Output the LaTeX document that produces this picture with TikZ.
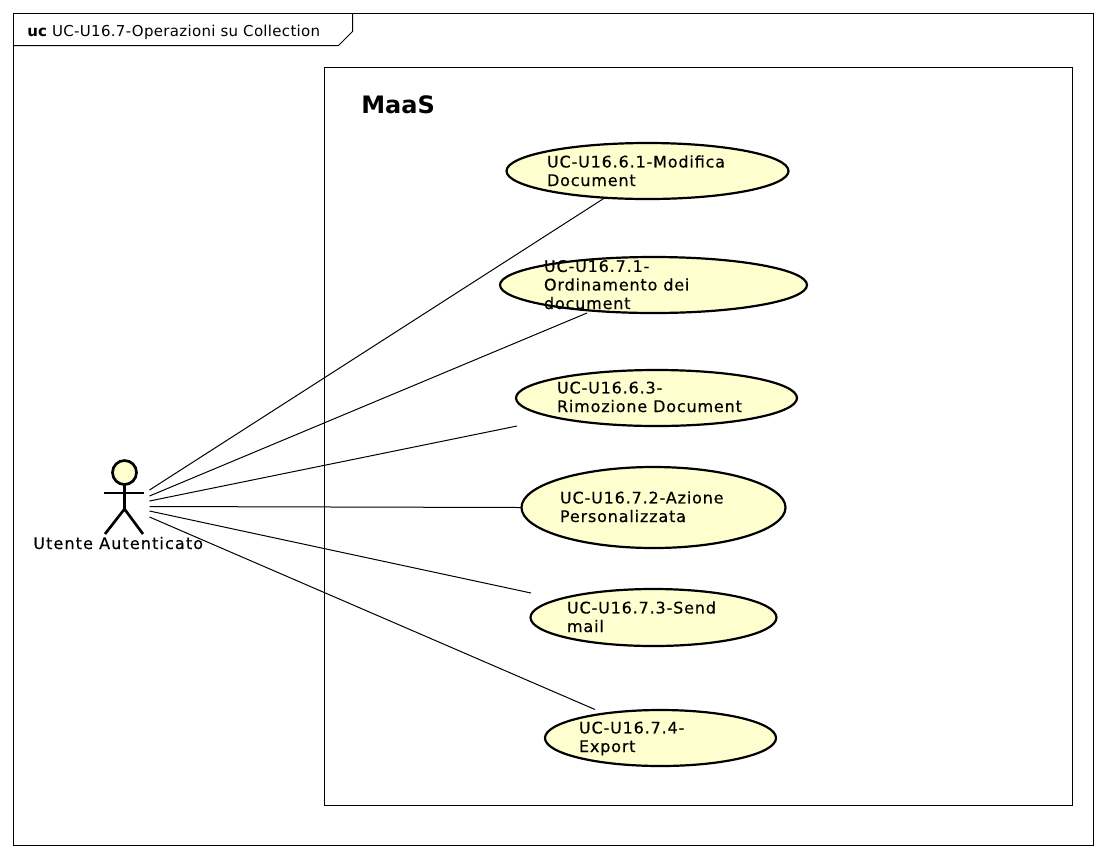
\documentclass[tikz,border=0pt]{standalone}
\usepackage{fontspec}
\setmainfont{DejaVu Sans}
\newfontfamily\ucfont[LetterSpace=5.2,FakeBold=0.4]{DejaVu Sans}
\newfontfamily\actorfont[LetterSpace=7,FakeBold=0.4]{DejaVu Sans}
\newfontfamily\framefont[LetterSpace=2]{DejaVu Sans}
\usetikzlibrary{shapes.geometric}
\definecolor{ucfill}{HTML}{FEFECE}
\tikzset{
  x=0.75pt,y=-0.75pt,
  thin line/.style={line width=0.75pt,black},
  uc/.style={ellipse,draw=black,line width=1.65pt,fill=ucfill,inner sep=0pt,outer sep=0pt},
  uclabel/.style={anchor=base west,inner sep=0pt,outer sep=0pt,align=left,font=\ucfont\fontsize{12pt}{13.9pt}\selectfont},
  limb/.style={line width=2pt,black},
}
\begin{document}
\begin{tikzpicture}
\useasboundingbox (0,0) rectangle (1106,858);
\draw[thin line] (13.5,13.5) rectangle (1093.5,845.5);
\draw[thin line] (13.5,45.5) -- (338.5,45.5) -- (352.5,31.5) -- (352.5,13.5);
\node[anchor=base west,inner sep=0pt,font=\framefont\fontsize{11.25pt}{12pt}\selectfont] (frametitle) at (27,36) {{\bfseries uc} UC-U16.7-Operazioni su Collection};
\draw[thin line] (324.5,67.5) rectangle (1072.5,805.5);
\node[anchor=base west,inner sep=0pt,font=\fontsize{18pt}{20pt}\selectfont\bfseries] (maas) at (361,113) {MaaS};

\node[uc,minimum width=282*0.75pt,minimum height=56*0.75pt] (u1) at (647.5,171) {};
\node[uc,minimum width=307*0.75pt,minimum height=56*0.75pt] (u2) at (653.5,285) {};
\node[uc,minimum width=281*0.75pt,minimum height=56*0.75pt] (u3) at (656.5,398) {};
\node[uc,minimum width=264*0.75pt,minimum height=81*0.75pt] (u4) at (653.5,507.5) {};
\node[uc,minimum width=246*0.75pt,minimum height=57*0.75pt] (u5) at (653.5,617.5) {};
\node[uc,minimum width=231*0.75pt,minimum height=56*0.75pt] (u6) at (660.5,738) {};

\node[uclabel] (l1) at (547,186) {UC-U16.6.1-Modifica\\Document};
\node[uclabel] (l2) at (544,309) {UC-U16.7.1-\\Ordinamento dei\\document};
\node[uclabel] (l3) at (557,412) {UC-U16.6.3-\\Rimozione Document};
\node[uclabel] (l4) at (560,522) {UC-U16.7.2-Azione\\Personalizzata};
\node[uclabel] (l5) at (567,632) {UC-U16.7.3-Send\\mail};
\node[uclabel] (l6) at (579,752) {UC-U16.7.4-\\Export};

\node[circle,draw=black,line width=2pt,fill=ucfill,minimum size=24*0.75pt,inner sep=0pt,outer sep=0pt] (head) at (124.5,472.5) {};
\coordinate (hip) at (124.5,509);
\coordinate (armL) at (104,493);
\coordinate (armR) at (144,493);
\coordinate (legL) at (105,534);
\coordinate (legR) at (143,534);
\draw[limb] (head.south) -- (hip);
\draw[limb] (armL) -- (armR);
\draw[limb] (legL) -- (hip) -- (legR);
\node[anchor=base west,inner sep=0pt,font=\actorfont\fontsize{12pt}{14pt}\selectfont] (actor) at (33,549) {Utente Autenticato};

\coordinate (a1) at (149.5,490);
\coordinate (a2) at (149.5,496);
\coordinate (a3) at (149.5,501);
\coordinate (a4) at (149.5,506.5);
\coordinate (a5) at (149.5,511);
\coordinate (a6) at (149.5,517);
\coordinate (e1) at (604.5,198);
\coordinate (e2) at (587,313);
\coordinate (e3) at (517,426);
\coordinate (e4) at (521,507.5);
\coordinate (e5) at (531,593);
\coordinate (e6) at (595,709.5);
\draw[thin line] (a1) -- (e1);
\draw[thin line] (a2) -- (e2);
\draw[thin line] (a3) -- (e3);
\draw[thin line] (a4) -- (e4);
\draw[thin line] (a5) -- (e5);
\draw[thin line] (a6) -- (e6);
\end{tikzpicture}
\end{document}
